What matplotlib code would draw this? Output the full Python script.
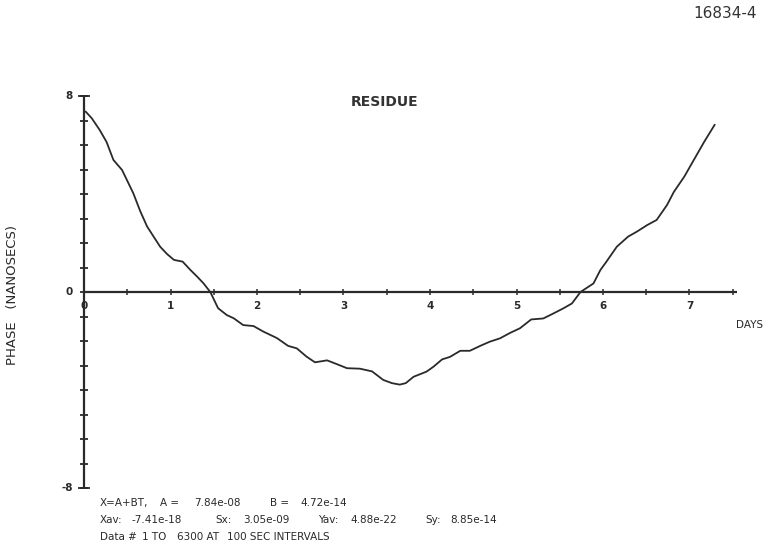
import matplotlib
matplotlib.use("Agg")
import matplotlib.pyplot as plt

# Residue curve (days, nanoseconds)
days = [0.02, 0.09, 0.18, 0.26, 0.34, 0.44, 0.57, 0.65, 0.73, 0.88, 0.96, 1.04, 1.14, 1.23, 1.31, 1.38, 1.46,
        1.55, 1.65, 1.73, 1.84, 1.96, 2.07, 2.23, 2.36, 2.46, 2.57, 2.67, 2.81, 2.92,
        3.04, 3.19, 3.33, 3.46, 3.56, 3.65, 3.72, 3.81, 3.96, 4.04, 4.14, 4.23, 4.35, 4.46, 4.58,
        4.69, 4.81, 4.92, 5.04, 5.17, 5.31, 5.43, 5.54, 5.64, 5.74, 5.89, 5.97, 6.04,
        6.16, 6.29, 6.39, 6.51, 6.62, 6.74, 6.82, 6.94, 7.05, 7.17, 7.29]
phase = [7.36, 7.09, 6.62, 6.13, 5.39, 4.98, 4.03, 3.30, 2.67, 1.85, 1.55, 1.31, 1.24, 0.90, 0.62, 0.36, 0.0,
         -0.66, -0.94, -1.07, -1.35, -1.39, -1.61, -1.88, -2.20, -2.30, -2.63, -2.87, -2.79, -2.94,
         -3.11, -3.13, -3.24, -3.59, -3.72, -3.78, -3.72, -3.46, -3.25, -3.05, -2.75, -2.65, -2.40, -2.40, -2.20,
         -2.03, -1.89, -1.68, -1.48, -1.12, -1.08, -0.87, -0.67, -0.47, 0.0, 0.35, 0.90, 1.24,
         1.85, 2.26, 2.46, 2.73, 2.94, 3.55, 4.09, 4.71, 5.39, 6.13, 6.82]

x_ticks = [0.5 * i for i in range(1, 16)]
x_labels = ["0", "1", "2", "3", "4", "5", "6", "7"]
y_ticks = list(range(-8, 9))
y_labels = {8: "8", 0: "0", -8: "-8"}

title = "RESIDUE"
fig_id = "16834-4"
ylabel = "PHASE   (NANOSECS)"
xlabel = "DAYS"

W, H = 769, 552
fig = plt.figure(figsize=(W / 100, H / 100), dpi=100)
fig.patch.set_facecolor("white")

# axes placement: x=0 -> px 84, 86.5 px/day ; y=0 -> px 292, 24.5 px/unit
xl, xr = -0.2, 7.7
yb, yt = -8.5, 8.5
left_px = 84 + xl * 86.5
right_px = 84 + xr * 86.5
top_px = 292 - yt * 24.5
bot_px = 292 - yb * 24.5
ax = fig.add_axes([left_px / W, 1 - bot_px / H, (right_px - left_px) / W, (bot_px - top_px) / H])
ax.set_xlim(xl, xr)
ax.set_ylim(yb, yt)
ax.axis("off")

ink = "#2a2a2a"
# axes lines
ax.plot([0, 0], [-8, 8], color=ink, lw=1.6, solid_capstyle="butt")
ax.plot([0, 7.55], [0, 0], color=ink, lw=1.6, solid_capstyle="butt")
# ticks
ax.plot(x_ticks, [0] * len(x_ticks), ls="none", marker="|", ms=5, mew=1.1, color=ink)
ax.plot([0] * len(y_ticks), y_ticks, ls="none", marker="_", ms=6, mew=1.3, color=ink)
ax.plot([0, 0], [8, -8], ls="none", marker="_", ms=9, mew=1.3, color=ink)

# curve
ax.plot(days, phase, color=ink, lw=1.3)

fs = 7.5
for i, lab in enumerate(x_labels):
    ax.text(i, -0.35, lab, ha="center", va="top", fontsize=fs, fontweight="bold", color=ink)
for v, lab in y_labels.items():
    ax.text(-0.13, v, lab, ha="right", va="center", fontsize=fs, fontweight="bold", color=ink)

def ftext(x, y, s, **kw):
    fig.text(x / W, 1 - y / H, s, **kw)

ftext(757, 14, fig_id, ha="right", va="center", fontsize=11, color="#333333")
ftext(385, 102, title, ha="center", va="center", fontsize=10, fontweight="bold", color="#333333")
ftext(736, 325, xlabel, ha="left", va="center", fontsize=fs, color=ink)
ftext(13, 295, ylabel, ha="center", va="center", rotation=90, fontsize=9.5, color=ink)

sf = 7.5
line1 = [(100, "X=A+BT,"), (160, "A ="), (194, "7.84e-08"), (270, "B ="), (300, "4.72e-14")]
line2 = [(100, "Xav:"), (132, "-7.41e-18"), (215, "Sx:"), (243, "3.05e-09"), (318, "Yav:"),
         (350, "4.88e-22"), (425, "Sy:"), (450, "8.85e-14")]
line3 = [(100, "Data #"), (142, "1 TO"), (177, "6300 AT"), (227, "100 SEC INTERVALS")]
for yy, items in ((503, line1), (520, line2), (537, line3)):
    for xx, s in items:
        ftext(xx, yy, s, ha="left", va="center", fontsize=sf, color=ink)

fig.savefig("out.png", dpi=100, facecolor="white")
